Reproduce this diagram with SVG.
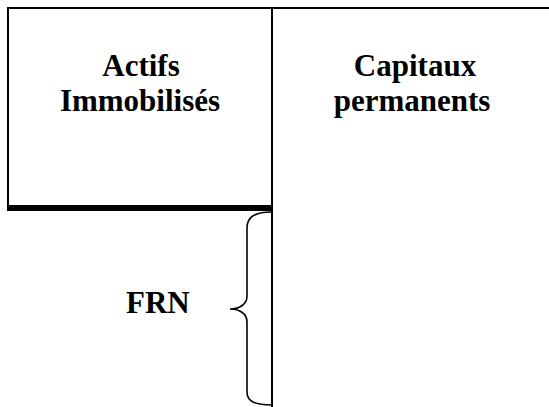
<svg xmlns="http://www.w3.org/2000/svg" width="549" height="407" viewBox="0 0 549 407">
  <style>
    .label { font-family: "Liberation Serif", "Times New Roman", serif; font-weight: bold; font-size: 31px; fill: #000; }
    .rule { stroke: #000; fill: none; stroke-width: 2; }
    .thick { stroke: #000; fill: none; stroke-width: 6; }
    .brace { stroke: #000; fill: none; stroke-width: 1.6; }
  </style>
  <rect width="549" height="407" fill="#fff"/>

  <!-- balance sheet frame -->
  <g id="frame">
    <line class="rule" x1="7" y1="8" x2="549" y2="8"/>
    <line class="rule" x1="8" y1="7" x2="8" y2="208"/>
    <line class="rule" x1="272" y1="7" x2="272" y2="407"/>
    <line class="thick" x1="7" y1="208" x2="273" y2="208"/>
  </g>

  <g id="actifs-immobilises">
    <text class="label" x="141" y="76" text-anchor="middle">Actifs</text>
    <text class="label" x="140" y="111" text-anchor="middle">Immobilisés</text>
  </g>

  <g id="capitaux-permanents">
    <text class="label" x="415" y="76" text-anchor="middle">Capitaux</text>
    <text class="label" x="412" y="111" text-anchor="middle">permanents</text>
  </g>

  <g id="connectors">
    <path class="brace" d="M272,212 C256,212 247,216 247,228 L247,296 C247,304 240,309 230,309 C240,309 247,314 247,322 L247,392 C247,402 256,405 272,405"/>
  </g>

  <g id="frn">
    <text class="label" x="126" y="313">FRN</text>
  </g>
</svg>
